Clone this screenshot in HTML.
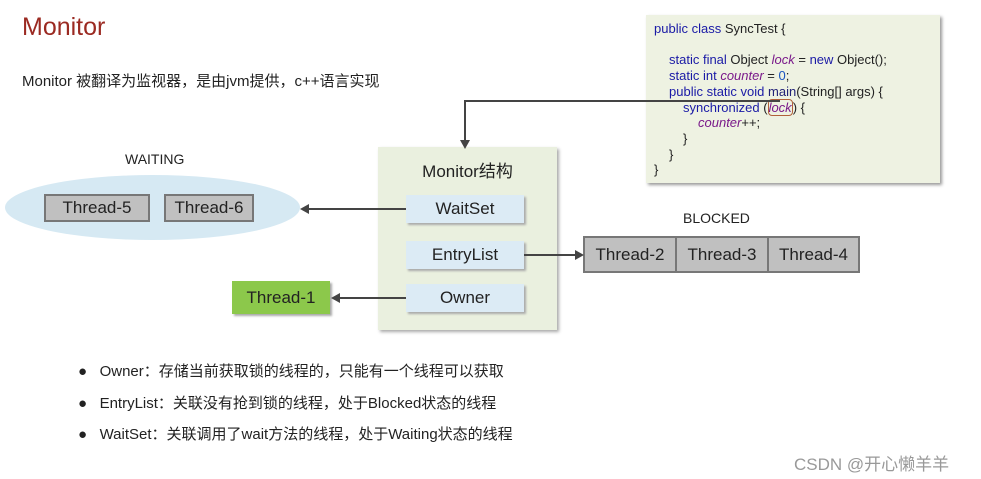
<!DOCTYPE html>
<html><head><meta charset="utf-8"><style>
body{margin:0;width:981px;height:479px;background:#fff;position:relative;overflow:hidden;font-family:"Liberation Sans","Noto Sans CJK SC",sans-serif;color:#222}
.a{position:absolute}
.box{position:absolute;display:flex;align-items:center;justify-content:center;box-sizing:border-box;font-size:17px}
.lb{background:#dcebf5;box-shadow:2px 2px 2px #aaa}
.gr{background:#c0c0c0;border:2px solid #777}
.code{font-family:"Liberation Sans",sans-serif;font-size:13px;line-height:15.7px;color:#222}
.k{color:#1a1aa6}.v{color:#7a1a8a;font-style:italic}.n{color:#1a55c0}
.bl{font-size:15px;color:#222}
</style></head><body>
<div class="a" style="left:22px;top:13px;font-size:25px;color:#9b2a22">Monitor</div>
<div class="a" style="left:22px;top:70px;font-size:15px">Monitor 被翻译为监视器，是由jvm提供，c++语言实现</div>

<div class="a code" style="left:646px;top:15px;width:294px;height:168px;background:#eef2e2;box-shadow:2px 2px 3px #999;box-sizing:border-box;padding:6px 0 0 8px">
<div><span class="k">public class</span> SyncTest {</div>
<div>&nbsp;</div>
<div style="padding-left:15px"><span class="k">static final</span> Object <span class="v">lock</span> = <span class="k">new</span> Object();</div>
<div style="padding-left:15px"><span class="k">static int</span> <span class="v">counter</span> = <span class="n">0</span>;</div>
<div style="padding-left:15px"><span class="k">public static void</span> <span style="color:#227">main</span>(String[] args) {</div>
<div style="padding-left:29px"><span class="k">synchronized</span> (<span class="v" style="border:1px solid #b0603a;border-radius:4px">lock</span>) {</div>
<div style="padding-left:44px"><span class="v">counter</span>++;</div>
<div style="padding-left:29px">}</div>
<div style="padding-left:15px">}</div>
<div>}</div>
</div>

<div class="a" style="left:5px;top:175px;width:295px;height:65px;border-radius:50%;background:#d6e9f3"></div>
<div class="a" style="left:125px;top:151px;font-size:14px">WAITING</div>
<div class="box gr" style="left:44px;top:194px;width:106px;height:28px">Thread-5</div>
<div class="box gr" style="left:164px;top:194px;width:90px;height:28px">Thread-6</div>

<div class="a" style="left:378px;top:147px;width:179px;height:183px;background:#eaf0df;box-shadow:2px 2px 3px #aaa"></div>
<div class="a" style="left:378px;top:157px;width:179px;text-align:center;font-size:17px">Monitor结构</div>
<div class="box lb" style="left:406px;top:195px;width:118px;height:28px">WaitSet</div>
<div class="box lb" style="left:406px;top:241px;width:118px;height:28px">EntryList</div>
<div class="box lb" style="left:406px;top:284px;width:118px;height:28px">Owner</div>
<div class="box" style="left:232px;top:281px;width:98px;height:33px;background:#8cc84b;box-shadow:2px 2px 2px #aaa">Thread-1</div>

<div class="a" style="left:683px;top:210px;font-size:14px">BLOCKED</div>
<div class="box gr" style="left:583px;top:236px;width:94px;height:37px">Thread-2</div>
<div class="box gr" style="left:675px;top:236px;width:94px;height:37px">Thread-3</div>
<div class="box gr" style="left:767px;top:236px;width:93px;height:37px">Thread-4</div>

<svg class="a" style="left:0;top:0" width="981" height="479">
<g stroke="#444" stroke-width="2" fill="none">
<path d="M780 101 H465 V142"/>
<path d="M406 209 H308"/>
<path d="M524 255 H576"/>
<path d="M406 298 H338"/>
</g>
<g fill="#444">
<path d="M460 140 L470 140 L465 149Z"/>
<path d="M300 209 L309 204 L309 214Z"/>
<path d="M584 255 L575 250 L575 260Z"/>
<path d="M331 298 L340 293 L340 303Z"/>
</g>
</svg>

<div class="a bl" style="left:78px;top:360px">●&nbsp;&nbsp;&nbsp;Owner：存储当前获取锁的线程的，只能有一个线程可以获取</div>
<div class="a bl" style="left:78px;top:392px">●&nbsp;&nbsp;&nbsp;EntryList：关联没有抢到锁的线程，处于Blocked状态的线程</div>
<div class="a bl" style="left:78px;top:423px">●&nbsp;&nbsp;&nbsp;WaitSet：关联调用了wait方法的线程，处于Waiting状态的线程</div>
<div class="a" style="left:794px;top:450px;font-size:17px;color:#999">CSDN @开心懒羊羊</div>
</body></html>
